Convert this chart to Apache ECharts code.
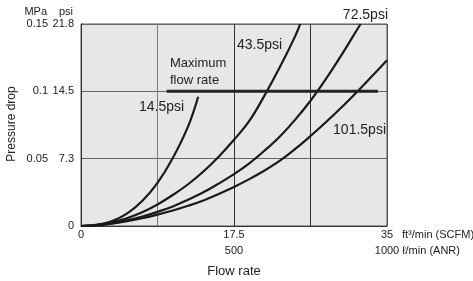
<!DOCTYPE html>
<html>
<head>
<meta charset="utf-8">
<script src="https://cdn.jsdelivr.net/npm/echarts@6/dist/echarts.min.js"></script>
<style>
html, body { margin: 0; padding: 0; background: #fff; }
#main { width: 473px; height: 281px; }
</style>
</head>
<body>
<div id="main"></div>
<script>
// flow rate in l/min (ANR), pressure drop in MPa
var psi14_5 = [[0,0],[50,0.0007],[100,0.0035],[150,0.0092],[200,0.0185],[250,0.032],[300,0.0505],[350,0.074],[383,0.096]];
var psi43_5 = [[0,0],[50,0.0009],[100,0.0028],[150,0.0058],[200,0.0102],[250,0.016],[300,0.023],[350,0.031],[400,0.0405],[450,0.0515],[500,0.064],[550,0.078],[600,0.097],[650,0.118],[700,0.141],[716,0.15]];
var psi72_5 = [[0,0],[50,0.0007],[100,0.002],[150,0.0042],[200,0.007],[250,0.0105],[300,0.0145],[350,0.0195],[400,0.025],[450,0.0315],[500,0.0385],[550,0.0465],[600,0.056],[650,0.0665],[700,0.079],[750,0.093],[800,0.109],[850,0.1265],[900,0.145],[914,0.15]];
var psi101_5 = [[0,0],[50,0.0006],[100,0.0018],[150,0.0036],[200,0.0058],[250,0.0085],[300,0.0115],[350,0.015],[400,0.019],[450,0.0238],[500,0.029],[550,0.0348],[600,0.0412],[650,0.0485],[700,0.0572],[750,0.0668],[800,0.077],[850,0.0878],[900,0.0992],[950,0.111],[1000,0.123]];
var maxFlow = [[280,0.1],[970,0.1]];

// tick labels
var mpaLabels = ['0', '0.05', '0.1', '0.15'];
var psiLabels = ['', '7.3', '14.5', '21.8'];
var anrTicks = [0, 500, 1000];
var scfmLabels = ['0', '17.5', '35'];
var anrLabels = ['', '500', '1000'];

var font = 'Liberation Sans, Arial, sans-serif';
var ink = '#222';

var myChart = echarts.init(document.getElementById('main'));

function curve(name, data) {
  return {
    name: name,
    type: 'line',
    data: data,
    smooth: 0.4,
    symbol: 'none',
    lineStyle: { color: '#1a1a1a', width: 2.2 },
    silent: true
  };
}

function txt(x, y, s, opts) {
  opts = opts || {};
  return {
    type: 'text',
    x: x, y: y,
    rotation: opts.rotation || 0,
    style: {
      text: s,
      fill: ink,
      font: (opts.size || 13) + 'px ' + font,
      align: opts.align || 'left',
      verticalAlign: 'middle'
    }
  };
}

var option = {
  animation: false,
  grid: {
    left: 81, right: 86, top: 24, bottom: 55,
    show: true,
    backgroundColor: '#e6e7e8',
    borderColor: '#555',
    borderWidth: 1
  },
  xAxis: {
    type: 'value',
    min: 0, max: 1000, interval: 250,
    axisLine: { show: true, lineStyle: { color: '#333', width: 1 } },
    axisTick: { show: false },
    splitLine: { show: true, lineStyle: { color: ['#333', '#7a7a7a', '#333', '#333', '#555'], width: 1 } },
    axisLabel: {
      color: ink, fontSize: 11, fontFamily: font, lineHeight: 16, margin: 1,
      formatter: function (v) {
        var i = anrTicks.indexOf(v);
        if (i < 0) return '';
        return anrLabels[i] ? scfmLabels[i] + '\n' + anrLabels[i] : scfmLabels[i];
      }
    }
  },
  yAxis: {
    type: 'value',
    min: 0, max: 0.15, interval: 0.05,
    axisLine: { show: true, lineStyle: { color: '#333', width: 1 } },
    axisTick: { show: false },
    splitLine: { show: true, lineStyle: { color: '#666', width: 1 } },
    axisLabel: {
      margin: 7,
      formatter: function (v) {
        var i = Math.round(v / 0.05);
        if (!psiLabels[i]) return '{b|' + mpaLabels[i] + '}';
        return '{a|' + mpaLabels[i] + '}{b|' + psiLabels[i] + '}';
      },
      rich: {
        a: { color: ink, fontSize: 11, fontFamily: font, width: 20, align: 'right' },
        b: { color: ink, fontSize: 11, fontFamily: font, width: 26, align: 'right' }
      }
    }
  },
  series: [
    curve('14.5psi', psi14_5),
    curve('43.5psi', psi43_5),
    curve('72.5psi', psi72_5),
    curve('101.5psi', psi101_5),
    {
      name: 'Maximum flow rate',
      type: 'line',
      data: maxFlow,
      symbol: 'none',
      lineStyle: { color: ink, width: 3 },
      silent: true
    }
  ],
  graphic: [
    txt(47, 12, 'MPa', { size: 11, align: 'right' }),
    txt(73, 12, 'psi', { size: 11, align: 'right' }),
    txt(170, 63, 'Maximum'),
    txt(170, 80, 'flow rate'),
    txt(237, 45, '43.5psi', { size: 14 }),
    txt(139, 107, '14.5psi', { size: 14 }),
    txt(388, 15, '72.5psi', { size: 14, align: 'right' }),
    txt(386, 130, '101.5psi', { size: 14, align: 'right' }),
    txt(402, 235, 'ft\u00b3/min (SCFM)', { size: 11 }),
    txt(402, 251, '\u2113/min (ANR)', { size: 11 }),
    txt(234, 271, 'Flow rate', { align: 'center' }),
    txt(12, 124, 'Pressure drop', { size: 12, align: 'center', rotation: Math.PI / 2 })
  ]
};

myChart.setOption(option);
</script>
</body>
</html>
